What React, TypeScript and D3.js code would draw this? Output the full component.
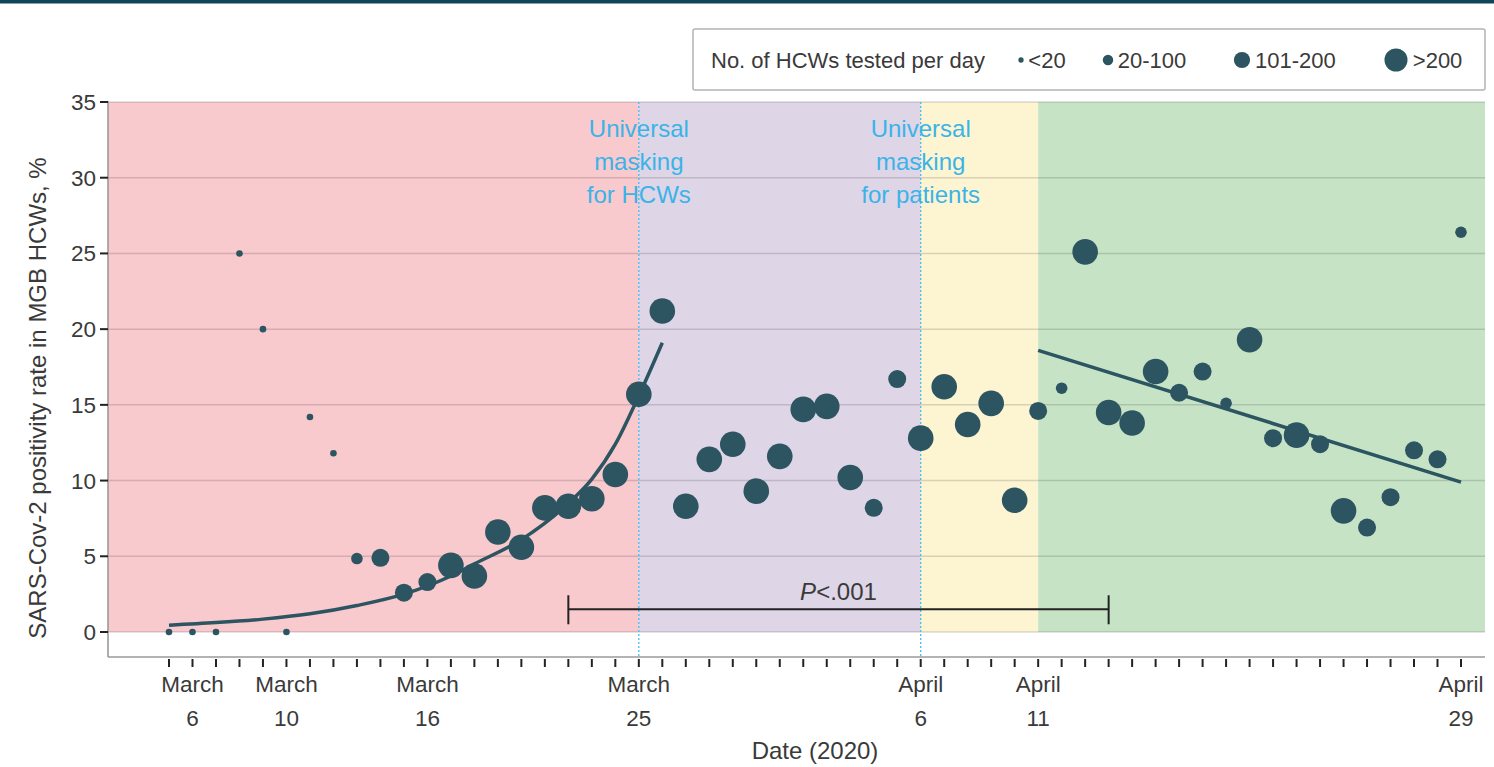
import * as d3 from 'd3'

const startDay = Date.UTC(2020, 2, 5)
const endDay = Date.UTC(2020, 3, 29)

// positivity rate per day, starting March 5
const positivity = [
  0, 0, 0, 25, 20, 0, 14.2, 11.8, 4.85, 4.9, 2.6, 3.3, 4.4, 3.7, 6.6, 5.6, 8.2, 8.3, 8.8, 10.4,
  15.7, 21.2, 8.3, 11.4, 12.4, 9.3, 11.6, 14.7, 14.9, 10.2, 8.2, 16.7, 12.8, 16.2, 13.7, 15.1,
  8.7, 14.6, 16.1, 25.1, 14.5, 13.8, 17.2, 15.8, 17.2, 15.1, 19.3, 12.8, 13.0, 12.4, 8.0, 6.9,
  8.9, 12.0, 11.4, 26.4,
]
// 0: <20, 1: 20-100, 2: 101-200, 3: >200
const testedGroup = [
  0, 0, 0, 0, 0, 0, 0, 0, 1, 2, 2, 2, 3, 3, 3, 3, 3, 3, 3, 3,
  3, 3, 3, 3, 3, 3, 3, 3, 3, 3, 2, 2, 3, 3, 3, 3,
  3, 2, 1, 3, 3, 3, 3, 2, 2, 1, 3, 2, 3, 2, 3, 2,
  2, 2, 2, 1,
]
const groupLabels = ['<20', '20-100', '101-200', '>200']

// fitted curves: [day offset, %]
const expFit: [number, number][] = [
  [0, 0.45], [2, 0.62], [4, 0.85], [6, 1.2], [8, 1.75], [10, 2.5], [12, 3.7], [13, 4.5],
  [15, 6.1], [17, 8.5], [18, 10.1], [19, 12.4], [20, 15.6], [21, 19.1],
]
const linFit: [number, number][] = [[37, 18.6], [55, 9.9]]

const phases = [
  { from: 0, to: 20, color: '#f8c9cd' },
  { from: 20, to: 32, color: '#ded5e7' },
  { from: 32, to: 37, color: '#fdf4d1' },
  { from: 37, to: 55, color: '#c6e4c5' },
]
const interventions = [
  { day: 20, lines: ['Universal', 'masking', 'for HCWs'] },
  { day: 32, lines: ['Universal', 'masking', 'for patients'] },
]
const tickLabels = [
  { day: 1, month: 'March', date: '6' },
  { day: 5, month: 'March', date: '10' },
  { day: 11, month: 'March', date: '16' },
  { day: 20, month: 'March', date: '25' },
  { day: 32, month: 'April', date: '6' },
  { day: 37, month: 'April', date: '11' },
  { day: 55, month: 'April', date: '29' },
]
const yTicks = [0, 5, 10, 15, 20, 25, 30, 35]
const bracket = { from: 17, to: 40, level: 1.5, label: '.001' }

const W = 1494
const H = 767
const FONT = '"Liberation Sans", Arial, sans-serif'
const ink = '#3a3a3a'
const dotColor = '#2c5461'
const radius = [3.3, 5.8, 9, 12.8]

const dayOf = (i: number) => new Date(startDay + i * 864e5)

export default function App() {
  const x = d3.scaleUtc().domain([new Date(startDay), new Date(endDay)]).range([169, 1461])
  const y = d3.scaleLinear().domain([0, 35]).range([632, 102])
  const px = (i: number) => x(dayOf(i))

  const plotLeft = 108
  const plotRight = 1485
  const axisY = 657
  const nDays = d3.utcDay.count(new Date(startDay), new Date(endDay))

  const curve = d3
    .line<[number, number]>()
    .x((d) => px(d[0]))
    .y((d) => y(d[1]))
    .curve(d3.curveMonotoneX)

  return (
    <svg width={W} height={H} style={{ position: 'absolute', left: 0, top: 0, background: '#fff' }}>
      <defs>
        <linearGradient id="topfade" x1="0" x2="1">
          <stop offset="0" stopColor="#0e4557" />
          <stop offset="1" stopColor="#2a929b" />
        </linearGradient>
      </defs>
      {/* header bar */}
      <rect x={0} y={0} width={W} height={3.5} fill="#0e4557" />
      <line x1={540} x2={W} y1={1.75} y2={1.75} stroke="url(#topfade)" strokeWidth={3.5} strokeDasharray="7 7" />

      {/* phase bands */}
      {phases.map((p, i) => (
        <rect
          key={i}
          x={i === 0 ? plotLeft : px(p.from)}
          y={y(35)}
          width={(i === phases.length - 1 ? plotRight : px(p.to)) - (i === 0 ? plotLeft : px(p.from))}
          height={y(0) - y(35)}
          fill={p.color}
        />
      ))}
      {yTicks.map((t) => (
        <line key={t} x1={plotLeft} x2={plotRight} y1={y(t)} y2={y(t)} stroke="rgba(0,0,0,0.14)" strokeWidth={1.5} />
      ))}

      {/* intervention markers */}
      {interventions.map((m) => (
        <g key={m.day}>
          <line x1={px(m.day)} x2={px(m.day)} y1={y(35)} y2={axisY} stroke="#45bdf0" strokeWidth={1.3} strokeDasharray="2 2" />
          {m.lines.map((l, j) => (
            <text key={j} x={px(m.day)} y={137 + j * 33} textAnchor="middle" fontFamily={FONT} fontSize={24} fill="#3ab4e8">
              {l}
            </text>
          ))}
        </g>
      ))}

      {/* axes */}
      <line x1={plotLeft} x2={plotLeft} y1={y(35) - 1} y2={axisY} stroke="#9a9a9a" strokeWidth={1.6} />
      <line x1={plotLeft} x2={plotRight} y1={axisY} y2={axisY} stroke="#9a9a9a" strokeWidth={1.6} />
      {yTicks.map((t) => (
        <g key={t}>
          <line x1={plotLeft - 8} x2={plotLeft} y1={y(t)} y2={y(t)} stroke="#222" strokeWidth={2} />
          <text x={plotLeft - 12} y={y(t) + 8} textAnchor="end" fontFamily={FONT} fontSize={22.5} fill={ink}>
            {t}
          </text>
        </g>
      ))}
      {d3.range(nDays + 1).map((i) => (
        <line key={i} x1={px(i)} x2={px(i)} y1={axisY + 2} y2={axisY + 10} stroke="#222" strokeWidth={2} />
      ))}
      {tickLabels.map((t) => (
        <g key={t.day} fontFamily={FONT} fontSize={22.5} fill={ink} textAnchor="middle">
          <text x={px(t.day)} y={692}>{t.month}</text>
          <text x={px(t.day)} y={726}>{t.date}</text>
        </g>
      ))}
      <text x={815} y={759} textAnchor="middle" fontFamily={FONT} fontSize={24} fill={ink}>
        Date (2020)
      </text>
      <text
        transform={`translate(46, 398) rotate(-90)`}
        textAnchor="middle"
        fontFamily={FONT}
        fontSize={24}
        fill={ink}
      >
        SARS-Cov-2 positivity rate in MGB HCWs, %
      </text>

      {/* P-value bracket */}
      <g stroke="#222" strokeWidth={2}>
        <line x1={px(bracket.from)} x2={px(bracket.to)} y1={y(bracket.level)} y2={y(bracket.level)} />
        <line x1={px(bracket.from)} x2={px(bracket.from)} y1={y(bracket.level) - 14} y2={y(bracket.level) + 15} />
        <line x1={px(bracket.to)} x2={px(bracket.to)} y1={y(bracket.level) - 14} y2={y(bracket.level) + 15} />
      </g>
      <text
        x={(px(bracket.from) + px(bracket.to)) / 2}
        y={y(bracket.level) - 9}
        textAnchor="middle"
        fontFamily={FONT}
        fontSize={24}
        fill={ink}
      >
        <tspan fontStyle="italic">P</tspan>
        {'<' + bracket.label}
      </text>

      {/* fits */}
      <path d={curve(expFit) ?? ''} fill="none" stroke={dotColor} strokeWidth={3.5} />
      <path d={curve(linFit) ?? ''} fill="none" stroke={dotColor} strokeWidth={3.5} />

      {/* points */}
      {positivity.map((v, i) => (
        <circle key={i} cx={px(i)} cy={y(v)} r={radius[testedGroup[i]]} fill={dotColor} />
      ))}

      {/* legend */}
      <rect x={693} y={29} width={792} height={61} fill="#fff" stroke="#b3b3b3" strokeWidth={1.5} rx={2} />
      <text x={711} y={68} fontFamily={FONT} fontSize={22} fill={ink}>
        No. of HCWs tested per day
      </text>
      {groupLabels.map((g, k) => {
        const cx = [1021, 1108, 1242, 1396][k]
        return (
          <g key={g}>
            <circle cx={cx} cy={60} r={radius[k] * (k === 0 ? 0.8 : 0.9)} fill={dotColor} />
            <text x={cx + radius[k] + 4} y={68} fontFamily={FONT} fontSize={22} fill={ink}>
              {g}
            </text>
          </g>
        )
      })}
    </svg>
  )
}
